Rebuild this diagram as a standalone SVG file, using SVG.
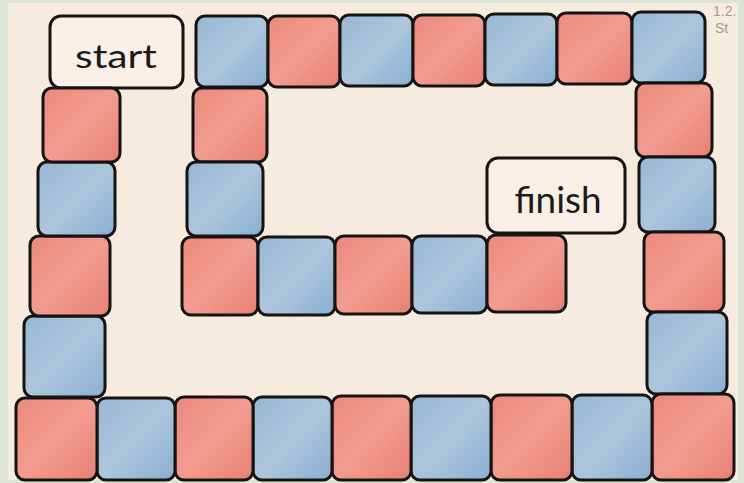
<svg xmlns="http://www.w3.org/2000/svg" width="744" height="483" viewBox="0 0 744 483">
<style>
.t{stroke:#161412;stroke-width:3;stroke-linejoin:round}
.r{fill:url(#gr)}
.b{fill:url(#gb)}
.lbl{fill:#f8efe6}
.txt{font-family:Lato,"Open Sans",sans-serif;font-weight:400;fill:#1c1a18;text-anchor:middle}
.note{font-family:"Liberation Sans",sans-serif;fill:#a89a88;font-size:14px}
</style>
<defs>
<linearGradient id="gr" x1="0" y1="0" x2="1" y2="1">
<stop offset="0" stop-color="#ec897d"/>
<stop offset="0.5" stop-color="#f29c90"/>
<stop offset="1" stop-color="#e87f73"/>
</linearGradient>
<linearGradient id="gb" x1="0" y1="0" x2="1" y2="1">
<stop offset="0" stop-color="#98b6d4"/>
<stop offset="0.5" stop-color="#adc6dc"/>
<stop offset="1" stop-color="#8aaed2"/>
</linearGradient>
</defs>
<rect x="0" y="0" width="744" height="483" fill="#dbe4d6"/>
<rect x="8" y="3" width="730" height="477" fill="#f6ebdf"/>
<g id="corner-note">
<text class="note" x="713" y="16">1.2.</text>
<text class="note" x="715" y="33">St</text>
</g>
<g id="start"><rect class="t lbl" x="50" y="16" width="133" height="72" rx="11"/><text class="txt" x="116" y="68" font-size="33" textLength="82" lengthAdjust="spacingAndGlyphs">start</text></g>
<g id="finish"><rect class="t lbl" x="487" y="158" width="138" height="75" rx="11"/><text class="txt" x="558" y="213" font-size="36" textLength="87" lengthAdjust="spacingAndGlyphs">finish</text></g>
<g id="tiles">
<!-- top row -->
<rect id="t01" class="t b" x="196" y="16" width="72" height="71" rx="9"/>
<rect id="t02" class="t r" x="268" y="16" width="72" height="71" rx="9"/>
<rect id="t03" class="t b" x="340" y="15" width="73" height="71" rx="9"/>
<rect id="t04" class="t r" x="413" y="15" width="72" height="71" rx="9"/>
<rect id="t05" class="t b" x="485" y="14" width="72" height="71" rx="9"/>
<rect id="t06" class="t r" x="557" y="13" width="75" height="71" rx="9"/>
<rect id="t07" class="t b" x="632" y="12" width="73" height="71" rx="9"/>
<!-- right column -->
<rect id="t08" class="t r" x="636" y="83" width="76" height="74" rx="9"/>
<rect id="t09" class="t b" x="639" y="157" width="76" height="75" rx="9"/>
<rect id="t10" class="t r" x="644" y="232" width="80" height="80" rx="9"/>
<rect id="t11" class="t b" x="647" y="312" width="80" height="82" rx="9"/>
<!-- bottom row -->
<rect id="t12" class="t r" x="652" y="394" width="82" height="86" rx="9"/>
<rect id="t13" class="t b" x="572" y="395" width="80" height="85" rx="9"/>
<rect id="t14" class="t r" x="491" y="395" width="81" height="85" rx="9"/>
<rect id="t15" class="t b" x="411" y="396" width="80" height="84" rx="9"/>
<rect id="t16" class="t r" x="332" y="396" width="79" height="84" rx="9"/>
<rect id="t17" class="t b" x="253" y="397" width="79" height="83" rx="9"/>
<rect id="t18" class="t r" x="175" y="397" width="78" height="83" rx="9"/>
<rect id="t19" class="t b" x="97" y="398" width="78" height="82" rx="9"/>
<rect id="t20" class="t r" x="16" y="398" width="81" height="82" rx="9"/>
<!-- left column -->
<rect id="t21" class="t b" x="24" y="316" width="81" height="81" rx="9"/>
<rect id="t22" class="t r" x="30" y="236" width="80" height="80" rx="9"/>
<rect id="t23" class="t b" x="38" y="162" width="77" height="74" rx="9"/>
<rect id="t24" class="t r" x="43" y="88" width="77" height="74" rx="9"/>
<!-- inner column -->
<rect id="t25" class="t r" x="193" y="88" width="74" height="74" rx="9"/>
<rect id="t26" class="t b" x="187" y="162" width="76" height="74" rx="9"/>
<!-- inner row -->
<rect id="t27" class="t r" x="182" y="237" width="76" height="78" rx="9"/>
<rect id="t28" class="t b" x="258" y="237" width="77" height="78" rx="9"/>
<rect id="t29" class="t r" x="335" y="236" width="77" height="78" rx="9"/>
<rect id="t30" class="t b" x="412" y="236" width="75" height="77" rx="9"/>
<rect id="t31" class="t r" x="487" y="235" width="79" height="77" rx="9"/>
</g>
<g id="connectors"/>
</svg>
